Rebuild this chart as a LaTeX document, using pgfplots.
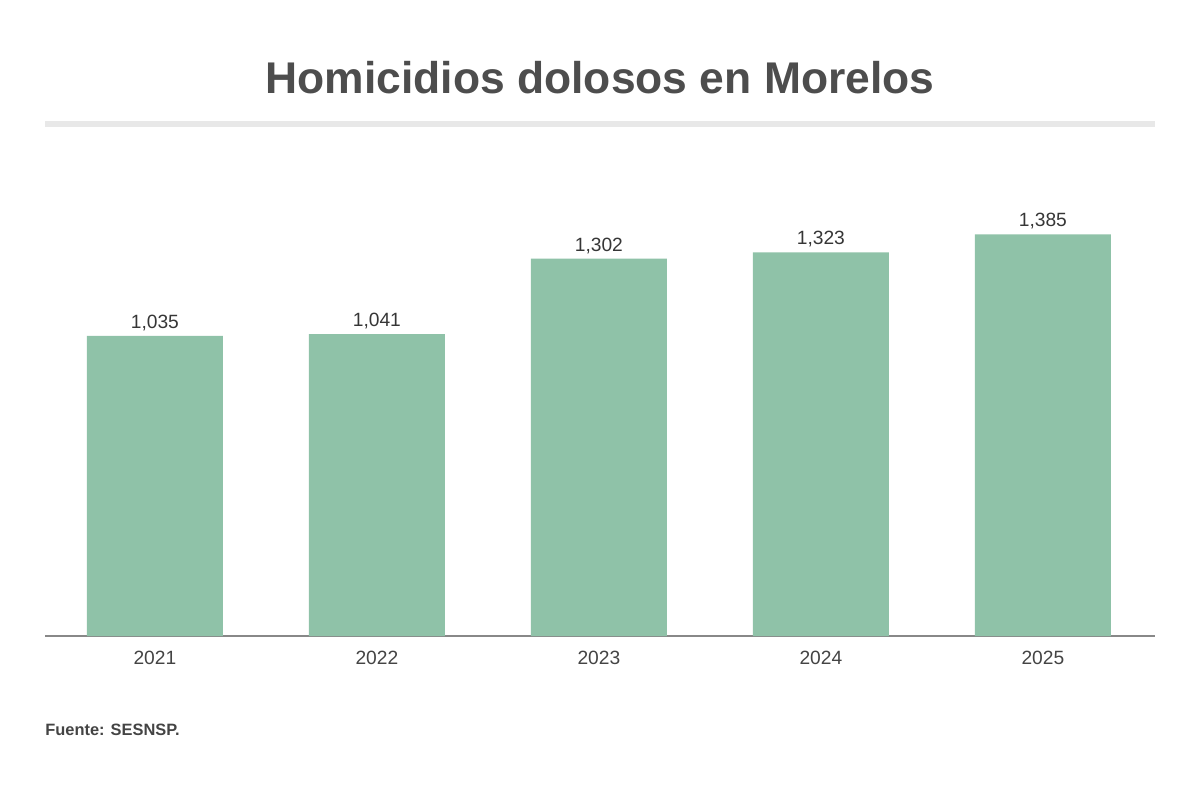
\documentclass[border=0pt]{standalone}
\usepackage{pgfplots}
\pgfplotsset{compat=1.18}
\usepackage{fontspec}
\setmainfont{Liberation Sans}
\definecolor{barfill}{HTML}{8FC2A8}
\definecolor{txt}{HTML}{444444}
\definecolor{rule}{HTML}{E8E8E8}
\definecolor{axline}{HTML}{888888}
\begin{document}
\begin{tikzpicture}
% canvas: 1200x788 px at 0.5pt per px
\path[use as bounding box] (0,0) rectangle (600pt,394pt);
\node[font=\bfseries\fontsize{22.2}{26}\selectfont, text=txt!95!white] at (300pt,355pt) {Homicidios dolosos en Morelos};
\draw[rule, line width=3pt] (22.5pt,332pt) -- (577.5pt,332pt);
\begin{axis}[
    at={(22.5pt,76pt)}, anchor=south west,
    scale only axis,
    width=555pt, height=218pt,
    xmin=-0.495, xmax=4.505,
    ymin=0, ymax=1504,
    axis x line*=bottom,
    axis y line=none,
    x axis line style={axline, line width=0.8pt, -},
    xtick=data,
    xticklabels={2021,2022,2023,2024,2025},
    xtick style={draw=none},
    xticklabel style={text=txt, font=\fontsize{9.6}{11}\selectfont, yshift=0.5pt},
    ytick=\empty,
    ybar, bar width=68pt,
    nodes near coords,
    every node near coord/.append style={text=txt!80!black, font=\fontsize{9.6}{11}\selectfont, yshift=-1pt},
    /pgf/number format/.cd, 1000 sep={,}, assume math mode=true,
]
\addplot[fill=barfill, draw=none] coordinates {(0,1035) (1,1041) (2,1302) (3,1323) (4,1385)};
\end{axis}
\node[anchor=base west, font=\bfseries\fontsize{8.2}{9}\selectfont, text=txt, inner sep=0pt] at (22.5pt,26.5pt) {Fuente: SESNSP.};
\end{tikzpicture}
\end{document}
